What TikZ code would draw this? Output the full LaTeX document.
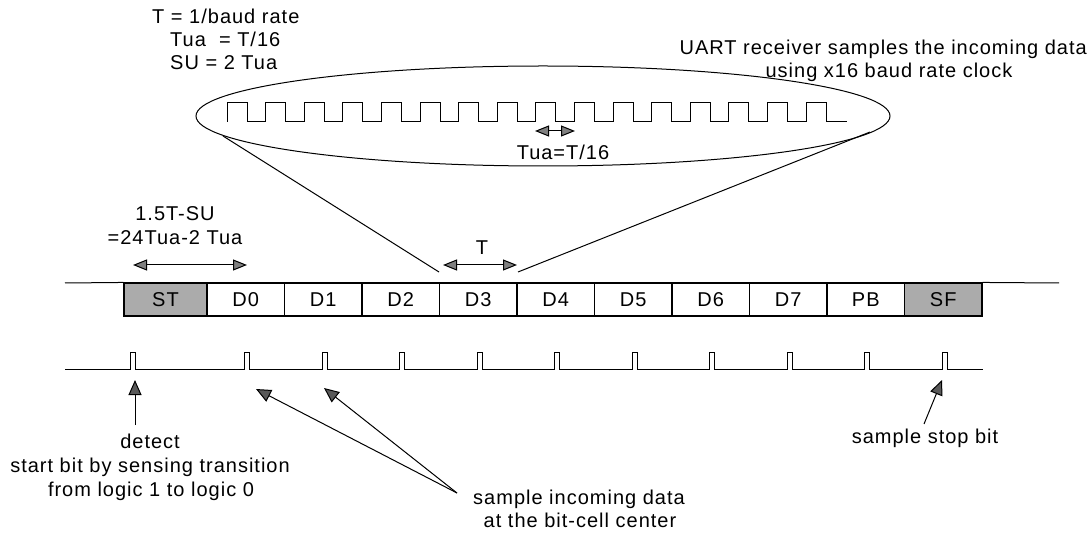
\documentclass[tikz,border=0pt]{standalone}
\usepackage{fontspec}
\setmainfont[LetterSpace=5]{Liberation Sans}
\usetikzlibrary{arrows.meta,shapes.geometric}
\begin{document}
\begin{tikzpicture}[x=1pt,y=-1pt,
  every node/.style={inner sep=0pt,font=\fontsize{20}{24}\selectfont},
  lbl/.style={anchor=base},
  cell/.style={draw,line width=1.1pt,minimum height=33pt,minimum width=77.5pt,anchor=center},
  gcell/.style={cell,fill=black!33},
  wave/.style={line width=1pt},
  thin/.style={line width=1pt},
  dimarrow/.style={line width=1pt,{Triangle[length=14pt,width=11pt,fill=black!50]}-{Triangle[length=14pt,width=11pt,fill=black!50]}},
  ptr/.style={line width=1pt,-{Triangle[length=15pt,width=13pt,fill=black!65]}}
]
\useasboundingbox (0,0) rectangle (1092,534);

% top-left definitions
\node[anchor=base west] (def1) at (152,24) {T = 1/baud rate};
\node[anchor=base west] (def2) at (170,47) {Tua\ \ = T/16};
\node[anchor=base west] (def3) at (170,70) {SU = 2 Tua};

% top-right caption
\node[anchor=base east] (cap1) at (1087,55) {UART receiver samples the incoming data};
\node[lbl] (cap2) at (889,78) {using x16 baud rate clock};

% zoom ellipse with x16 clock
\node[draw,thin,ellipse,minimum width=694pt,minimum height=100pt] (zoom) at (543,116) {};
\draw[wave] (227,122) foreach \i in {0,...,15} {
    -- ({227+38.6*\i},122) -- ({227+38.6*\i},103) -- ({247+38.6*\i},103) -- ({247+38.6*\i},122)
  } -- (847,122);
\coordinate (tuaL) at (535,131);
\coordinate (tuaR) at (575,131);
\draw[dimarrow] (tuaL) -- (tuaR);
\node[lbl] (tualbl) at (563,160) {Tua=T/16};

% frame cells
\node[gcell,minimum width=83pt] (ST) at (165.5,299.5) {ST};
\foreach \t [count=\i from 0] in {D0,D1,D2,D3,D4,D5,D6,D7,PB}
  \node[cell] (\t) at ({245.75+77.5*\i},299.5) {\t};
\node[gcell] (SF) at (943.25,299.5) {SF};
\coordinate (idleL) at (65,283);
\coordinate (idleR) at (1059,283);
\draw[thin] (idleL) -- (ST.north west);
\draw[thin] (SF.north east) -- (idleR);

% lines from ellipse to bit cell D3
\coordinate (zl) at (223,136);
\coordinate (zr) at (870,132);
\coordinate (bl) at (439,272);
\coordinate (br) at (518,272);
\draw[thin] (zl) -- (bl);
\draw[thin] (zr) -- (br);

% dimension arrows
\coordinate (s1) at (133,265);
\coordinate (s2) at (247,265);
\draw[dimarrow] (s1) -- (s2);
\node[lbl] (su1) at (175,221) {1.5T-SU};
\node[lbl] (su2) at (175,245) {=24Tua-2 Tua};
\coordinate (t1) at (443,265);
\coordinate (t2) at (517,265);
\draw[dimarrow] (t1) -- (t2);
\node[lbl] (tlbl) at (482,255) {T};

% sampling pulses
\draw[wave] (65,370) -- (130,370) -- (130,353) -- (135,353) -- (135,370)
  foreach \i in {0,...,9} {
    -- ({244.75+77.5*\i},370) -- ({244.75+77.5*\i},353) -- ({249.75+77.5*\i},353) -- ({249.75+77.5*\i},370)
  } -- (983,370);

% pointers
\coordinate (detT) at (135,380);
\coordinate (detB) at (135,425);
\draw[ptr] (detB) -- (detT);
\coordinate (smp) at (457,493);
\coordinate (smp0) at (256,389);
\coordinate (smp1) at (324,388);
\draw[ptr] (smp) -- (smp0);
\draw[ptr] (smp) -- (smp1);
\coordinate (stpB) at (924,424);
\coordinate (stpT) at (942,380);
\draw[ptr] (stpB) -- (stpT);

% bottom labels
\node[lbl] (det1) at (150,448) {detect};
\node[lbl] (det2) at (150,472) {start bit by sensing transition};
\node[lbl] (det3) at (151,496) {from logic 1 to logic 0};
\node[lbl] (smpl1) at (579,504) {sample incoming data};
\node[lbl] (smpl2) at (580,527) {at the bit-cell center};
\node[lbl] (stp) at (925,443) {sample stop bit};
\end{tikzpicture}
\end{document}
